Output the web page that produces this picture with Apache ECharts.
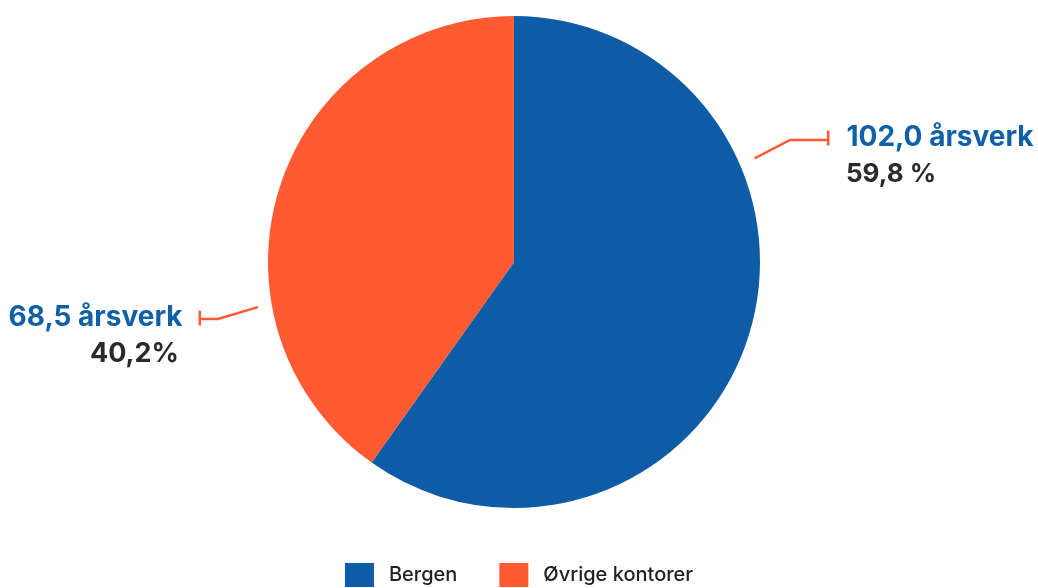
<!DOCTYPE html>
<html><head><meta charset="utf-8">
<script src="https://cdn.jsdelivr.net/npm/echarts@6/dist/echarts.min.js"></script>
<style>html,body{margin:0;padding:0;background:#fff}#c{width:1038px;height:588px}</style>
</head><body><div id="c"></div>
<script>
const categories = ['Bergen', 'Øvrige kontorer'];
const values = [102.0, 68.5];
const percentLabels = ['59,8 %', '40,2%'];
const valueLabels = ['102,0 årsverk', '68,5 årsverk'];

const BLUE = '#0f5ca6', ORANGE = '#ff5a31', LINE = '#ff5a31';
const CX = 514, CY = 262, R = 246;

const chart = echarts.init(document.getElementById('c'));
const FONT = 'Inter, "Noto Sans", sans-serif';

function pt(angleDeg, r) {
  const a = angleDeg * Math.PI / 180;
  return [CX + r * Math.sin(a), CY - r * Math.cos(a)];
}

chart.setOption({
  animation: false,
  color: [BLUE, ORANGE],
  legend: {
    bottom: -4, left: 'center',
    itemWidth: 29, itemHeight: 24, itemGap: 42,
    icon: 'rect',
    textStyle: { fontFamily: FONT, fontSize: 20, fontWeight: 500, color: '#222', padding: [0, 0, 0, 10] },
    data: categories
  },
  series: [{
    type: 'pie',
    center: [CX, CY], radius: R,
    startAngle: 90, clockwise: true,
    data: categories.map((c, i) => ({ name: c, value: values[i] })),
    itemStyle: { borderWidth: 0 },
    label: {
      show: true,
      fontFamily: FONT,
      formatter: p => p.dataIndex === 0
        ? '{t|}{a|' + valueLabels[0] + '}\n{b|' + percentLabels[0] + '}'
        : '{a|' + valueLabels[1] + '}{t|}\n{c|' + percentLabels[1] + '}',
      rich: {
        t: { backgroundColor: LINE, width: 2.5, height: 15 },
        a: { fontFamily: FONT, fontSize: 28, fontWeight: 700, color: '#1060a8', lineHeight: 36, padding: [0, 16, 0, 17] },
        b: { fontFamily: FONT, fontSize: 26, fontWeight: 700, color: '#2a2a2a', lineHeight: 36, padding: [0, 0, 0, 19] },
        c: { fontFamily: FONT, fontSize: 27, fontWeight: 700, color: '#2a2a2a', lineHeight: 36, padding: [0, 22, 0, 0] }
      }
    },
    labelLine: { show: true, lineStyle: { color: LINE, width: 2.5 } },
    labelLayout: function (params) {
      if (params.dataIndex === 0) {
        const s = pt(66.7, 262);
        return {
          x: 827, y: 120, align: 'left', verticalAlign: 'top',
          labelLinePoints: [s, [790, 140], [827, 140]]
        };
      } else {
        const s = pt(260, 260);
        return {
          x: 201, y: 300, align: 'right', verticalAlign: 'top',
          labelLinePoints: [s, [218, 319], [201, 319]]
        };
      }
    },
    emphasis: { disabled: true }
  }]
});
</script></body></html>
